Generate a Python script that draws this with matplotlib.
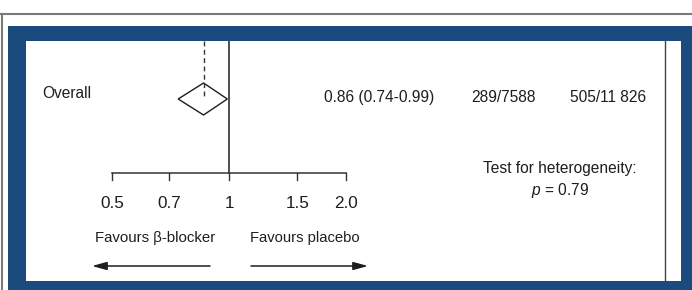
import matplotlib
matplotlib.use('Agg')
import matplotlib.pyplot as plt
import matplotlib.transforms as mtransforms
from matplotlib.patches import Rectangle, Polygon
from matplotlib.lines import Line2D
import numpy as np

plt.rcParams['font.family'] = ['Liberation Sans', 'DejaVu Sans']
plt.rcParams['mathtext.fontset'] = 'custom'
plt.rcParams['mathtext.it'] = 'Liberation Sans:italic'
plt.rcParams['mathtext.rm'] = 'Liberation Sans'

# data
row_label = 'Overall'
estimate = 0.86
ci_low = 0.74
ci_high = 0.99
estimate_text = '0.86 (0.74-0.99)'
events_bb = '289/7588'
events_placebo = '505/11 826'
tick_values = [0.5, 0.7, 1, 1.5, 2.0]
tick_labels = ['0.5', '0.7', '1', '1.5', '2.0']
left_label = 'Favours β-blocker'
right_label = 'Favours placebo'
het_title = 'Test for heterogeneity:'
het_p = '$p$ = 0.79'

W, H = 692, 290
blue = '#1b4b7e'
ink = '#1e1e1e'
fs = 11.2

fig = plt.figure(figsize=(W / 100, H / 100), dpi=100)

# frame: gray rule, blue border
fig.add_artist(Line2D([0, 1], [1 - 14 / H, 1 - 14 / H], color='#7a7a7a', lw=1.5, zorder=-6))
fig.add_artist(Line2D([2 / W, 2 / W], [0, 1 - 14 / H], color='#7a7a7a', lw=1.5, zorder=-6))
fig.add_artist(Rectangle((8 / W, 0), 1, 1 - 26 / H, color=blue, lw=0, zorder=-5))

# inner white panel from px (26,41) to (681,281)
L, T, R, B = 26, 41, 681, 281
ax = fig.add_axes([L / W, (H - B) / H, (R - L) / W, (B - T) / H])
ax.set_facecolor('white')
ax.set_xscale('log')
# 0.5 sits at px 112, 2.0 at px 346
k = (346 - 112) / np.log(4)
ax.set_xlim(np.exp(np.log(0.5) - (112 - L) / k), np.exp(np.log(2.0) + (R - 346) / k))
ax.set_ylim(B - T, 0)
for s in ax.spines.values():
    s.set_visible(False)
ax.set_xticks([])
ax.set_yticks([])
ax.minorticks_off()
ax.tick_params(which='both', length=0, labelbottom=False, labelleft=False)

def fx(px):
    return (px - L) / (R - L)

blend = mtransforms.blended_transform_factory(ax.transAxes, ax.transData)

# line of no effect and estimate line
ax.plot([1, 1], [0, 132], color=ink, lw=1.1)
ax.plot([estimate, estimate], [0, 56], color='#333333', lw=1.0, dashes=(3.5, 2.5))

# diamond
ax.add_patch(Polygon([(ci_low, 58), (estimate, 42), (ci_high, 58), (estimate, 74)],
                     closed=True, fill=False, edgecolor=ink, lw=1.0))

# axis line and ticks
ax.plot([tick_values[0], tick_values[-1]], [132, 132], color='#333333', lw=1.1)
for v, lab in zip(tick_values, tick_labels):
    ax.plot([v, v], [132, 139], color='#333333', lw=1.0)
    ax.text(v, 162, lab, ha='center', va='center', fontsize=12.3, color=ink)

# row texts
ax.text(fx(42), 52, row_label, transform=blend, ha='left', va='center', fontsize=fs, color=ink)
ax.text(fx(324), 56, estimate_text, transform=blend, ha='left', va='center', fontsize=fs, color=ink)
ax.text(fx(471), 56, events_bb, transform=blend, ha='left', va='center', fontsize=fs, color=ink)
ax.text(fx(570), 56, events_placebo, transform=blend, ha='left', va='center', fontsize=fs, color=ink)

# heterogeneity
ax.text(fx(560), 127, het_title, transform=blend, ha='center', va='center', fontsize=fs, color=ink)
ax.text(fx(560), 150, het_p, transform=blend, ha='center', va='center', fontsize=fs, color=ink)

# favours labels and arrows
ax.text(fx(155), 197, left_label, transform=blend, ha='center', va='center', fontsize=10.8, color=ink)
ax.text(fx(305), 197, right_label, transform=blend, ha='center', va='center', fontsize=10.6, color=ink)
arrow = dict(arrowstyle='-|>,head_length=0.8,head_width=0.22', color=ink, lw=1.1,
             mutation_scale=11, shrinkA=0, shrinkB=0)
ax.annotate('', xy=(fx(92), 225), xytext=(fx(210), 225), xycoords=blend, textcoords=blend,
            arrowprops=arrow)
ax.annotate('', xy=(fx(368), 225), xytext=(fx(251), 225), xycoords=blend, textcoords=blend,
            arrowprops=arrow)

# right-hand rule line
ax.plot([fx(665), fx(665)], [0, B - T], transform=blend, color='#444444', lw=1.0)

fig.savefig('out.png', dpi=100)
